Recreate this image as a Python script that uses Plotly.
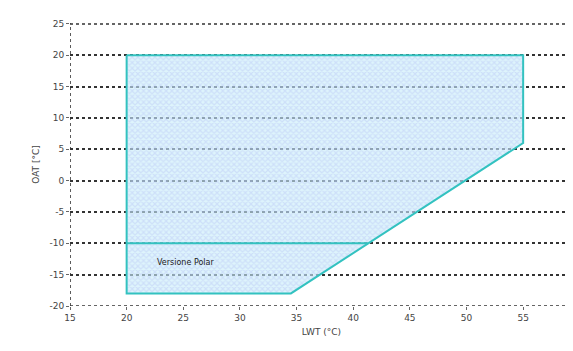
import plotly.graph_objects as go

# Operating envelope (LWT °C, OAT °C)
env_lwt = [20, 55, 55, 34.5, 20, 20]
env_oat = [20, 20, 6, -18, -18, 20]
# "Versione Polar" boundary line
polar_lwt = [20, 41.3]
polar_oat = [-10, -10]
y_ticks = [-20, -15, -10, -5, 0, 5, 10, 15, 20, 25]
y_labels = ["-20", "-15", "-10", "-5", "0", "5", "10", "15", "20", "25"]
x_ticks = [15, 20, 25, 30, 35, 40, 45, 50, 55]

edge = "#33c2c0"
fig = go.Figure()
fig.add_trace(go.Scatter(
    x=env_lwt, y=env_oat, mode="lines", fill="toself",
    line=dict(color=edge, width=2),
    fillcolor="rgba(200,232,250,0.6)",
    fillpattern=dict(shape="x", fgcolor="rgba(160,168,240,0.55)",
                     bgcolor="rgba(200,236,250,0.6)", size=4, solidity=0.5),
    hoverinfo="skip", showlegend=False))
fig.add_trace(go.Scatter(
    x=polar_lwt, y=polar_oat, mode="lines",
    line=dict(color=edge, width=2), hoverinfo="skip", showlegend=False))

fig.add_annotation(x=22.5, y=-13, text="Versione Polar", showarrow=False,
                   xanchor="left", yanchor="middle",
                   font=dict(family="DejaVu Sans", size=8, color="#222"))

grid_line = dict(color="#333", width=1.6, dash="dot")
# top gridline, bottom axis line and left axis line, dotted as in the reference
fig.add_shape(type="line", xref="paper", x0=0, x1=1, yref="y", y0=y_ticks[-1], y1=y_ticks[-1],
              line=grid_line, layer="below")
fig.add_shape(type="line", xref="paper", x0=0, x1=1, yref="y", y0=y_ticks[0], y1=y_ticks[0],
              line=grid_line, layer="above")
fig.add_shape(type="line", xref="x", x0=x_ticks[0], x1=x_ticks[0], yref="paper", y0=0, y1=1,
              line=grid_line, layer="above")

fig.update_layout(
    width=565, height=343,
    margin=dict(l=62, r=0, t=15, b=45, autoexpand=False),
    paper_bgcolor="white", plot_bgcolor="white",
    font=dict(family="DejaVu Sans", size=9, color="#444"),
    xaxis=dict(range=[15, 59.4], tickvals=x_ticks, showgrid=False, zeroline=False,
               showline=False,
               ticks="outside", ticklen=3, tickcolor="#666", automargin=False,
               title=dict(text="LWT (°C)", standoff=6, font=dict(size=9))),
    yaxis=dict(range=[-20, 25.15], tickvals=y_ticks, ticktext=y_labels,
               showgrid=True, gridcolor="#333",
               griddash="dot", gridwidth=1.6, zeroline=False,
               showline=False,
               ticks="outside", ticklen=3, tickcolor="#666", automargin=False,
               title=dict(text="OAT [°C]", standoff=8, font=dict(size=9))),
)
fig.write_html("out.html")
